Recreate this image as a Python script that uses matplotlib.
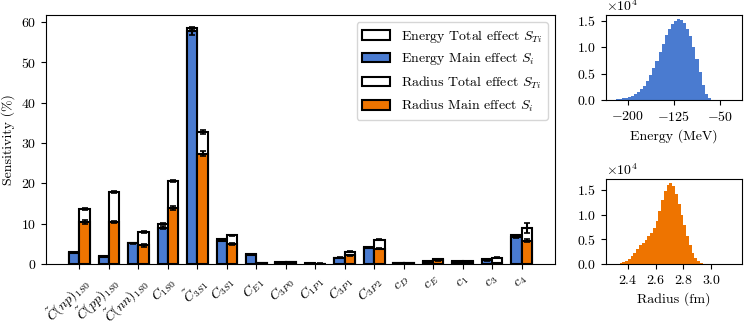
import numpy as np
import matplotlib
matplotlib.use("Agg")
from matplotlib import pyplot as plt

plt.rcParams["font.family"] = "serif"
plt.rcParams["font.serif"] = ["cmr10"]
plt.rcParams["mathtext.fontset"] = "cm"
plt.rcParams["axes.formatter.use_mathtext"] = True
plt.rcParams["font.size"] = 10

labels = [r"$\tilde{C}(np)_{1S0}$", r"$\tilde{C}(pp)_{1S0}$", r"$\tilde{C}(nn)_{1S0}$",
          r"$C_{1S0}$", r"$\tilde{C}_{3S1}$", r"$C_{3S1}$", r"$C_{E1}$", r"$C_{3P0}$",
          r"$C_{1P1}$", r"$C_{3P1}$", r"$C_{3P2}$", r"$c_D$", r"$c_E$", r"$c_1$", r"$c_3$", r"$c_4$"]

# sensitivities in %
E_main = [2.8, 1.8, 5.1, 9.0, 57.7, 5.8, 2.3, 0.3, 0.1, 1.5, 4.0, 0.2, 0.6, 0.6, 0.9, 6.7]
E_total = [2.9, 1.9, 5.2, 10.0, 58.4, 6.1, 2.4, 0.4, 0.15, 1.6, 4.1, 0.25, 0.7, 0.7, 1.3, 7.1]
E_main_err = [0.1, 0.1, 0.15, 0.3, 0.8, 0.2, 0.05, 0.05, 0.02, 0.05, 0.1, 0.02, 0.05, 0.05, 0.05, 0.2]
E_total_err = [0.05, 0.05, 0.1, 0.2, 0.4, 0.1, 0.05, 0.02, 0.02, 0.05, 0.05, 0.02, 0.05, 0.05, 0.05, 0.2]
R_main = [10.4, 10.4, 4.6, 14.0, 27.4, 4.9, 0.2, 0.4, 0.1, 2.2, 3.8, 0.2, 0.9, 0.6, 0.3, 5.8]
R_total = [13.6, 17.9, 8.0, 20.6, 32.8, 7.1, 0.3, 0.5, 0.12, 3.0, 6.0, 0.25, 1.2, 0.8, 1.6, 8.9]
R_main_err = [0.4, 0.3, 0.3, 0.5, 0.7, 0.3, 0.05, 0.05, 0.02, 0.1, 0.2, 0.02, 0.05, 0.05, 0.05, 0.3]
R_total_err = [0.3, 0.3, 0.2, 0.3, 0.5, 0.2, 0.05, 0.05, 0.02, 0.1, 0.1, 0.02, 0.05, 0.05, 0.1, 1.3]

# posterior histograms (counts in units of 1e4)
E_bins = [-222.5, -217.5, -212.5, -207.5, -202.5, -197.5, -192.5, -187.5, -182.5, -177.5,
          -172.5, -167.5, -162.5, -157.5, -152.5, -147.5, -142.5, -137.5, -132.5, -127.5,
          -122.5, -117.5, -112.5, -107.5, -102.5, -97.5, -92.5, -87.5, -82.5, -77.5,
          -72.5, -67.5, -62.5]
E_counts = [0.0, 0.01, 0.02, 0.03, 0.04, 0.06, 0.08, 0.11, 0.15, 0.20,
            0.27, 0.36, 0.47, 0.60, 0.74, 0.90, 1.06, 1.22, 1.34, 1.43,
            1.50, 1.53, 1.51, 1.45, 1.35, 1.20, 1.00, 0.77, 0.52, 0.28,
            0.11, 0.03, 0.005]
R_bins = [2.33, 2.35, 2.37, 2.39, 2.41, 2.43, 2.45, 2.47, 2.49, 2.51, 2.53, 2.55,
          2.57, 2.59, 2.61, 2.63, 2.65, 2.67, 2.69, 2.71, 2.73, 2.75, 2.77, 2.79,
          2.81, 2.83, 2.85, 2.87, 2.89, 2.91, 2.93, 2.95, 2.97]
R_counts = [0.01, 0.02, 0.04, 0.07, 0.11, 0.16, 0.23, 0.31, 0.38, 0.43, 0.49, 0.56,
            0.63, 0.73, 0.88, 1.08, 1.30, 1.48, 1.60, 1.64, 1.58, 1.42, 1.22, 1.00,
            0.78, 0.56, 0.38, 0.22, 0.12, 0.06, 0.03, 0.01, 0.005]

blue = "#4a7bd0"
orange = "#ee7400"

fig = plt.figure(figsize=(7.47, 3.36), dpi=100)
ax = fig.add_axes([0.0616, 0.2143, 0.6814, 0.741])

x = np.arange(len(labels))
w = 0.35
ek = dict(fmt="none", ecolor="k", elinewidth=1.5, capsize=2, capthick=1.2)
ax.bar(x - w/2, E_total, w, color="white", edgecolor="k", lw=1.5, label=r"Energy Total effect $S_{Ti}$")
ax.errorbar(x - w/2, E_total, yerr=E_total_err, **ek)
ax.bar(x - w/2, E_main, w, color=blue, edgecolor="k", lw=1.5, label=r"Energy Main effect $S_i$")
ax.errorbar(x - w/2, E_main, yerr=E_main_err, **ek)
ax.bar(x + w/2, R_total, w, color="white", edgecolor="k", lw=1.5, label=r"Radius Total effect $S_{Ti}$")
ax.errorbar(x + w/2, R_total, yerr=R_total_err, **ek)
ax.bar(x + w/2, R_main, w, color=orange, edgecolor="k", lw=1.5, label=r"Radius Main effect $S_i$")
ax.errorbar(x + w/2, R_main, yerr=R_main_err, **ek)

ax.set_xticks(x)
ax.set_xticklabels(labels, rotation=45, ha="right", rotation_mode="anchor")
ax.set_ylabel("Sensitivity (%)")
ax.set_yticks([0, 10, 20, 30, 40, 50, 60])
ax.legend(loc="upper right")

ax1 = fig.add_axes([0.8108, 0.7024, 0.182, 0.253])
ax1.bar(E_bins, np.array(E_counts) * 1e4, width=5, color=blue, lw=0)
ax1.set_xlim(-236, -15)
ax1.set_xticks([-200, -125, -50])
ax1.set_yticks([0, 5000, 10000, 15000])
ax1.ticklabel_format(axis="y", style="sci", scilimits=(0, 0))
ax1.set_xlabel("Energy (MeV)")

ax2 = fig.add_axes([0.8108, 0.2143, 0.182, 0.253])
ax2.bar(R_bins, np.array(R_counts) * 1e4, width=0.02, color=orange, lw=0)
ax2.set_xlim(2.24, 3.22)
ax2.set_xticks([2.4, 2.6, 2.8, 3.0])
ax2.set_yticks([0, 5000, 10000, 15000])
ax2.ticklabel_format(axis="y", style="sci", scilimits=(0, 0))
ax2.set_xlabel("Radius (fm)")

fig.savefig("out.png", dpi=100)
